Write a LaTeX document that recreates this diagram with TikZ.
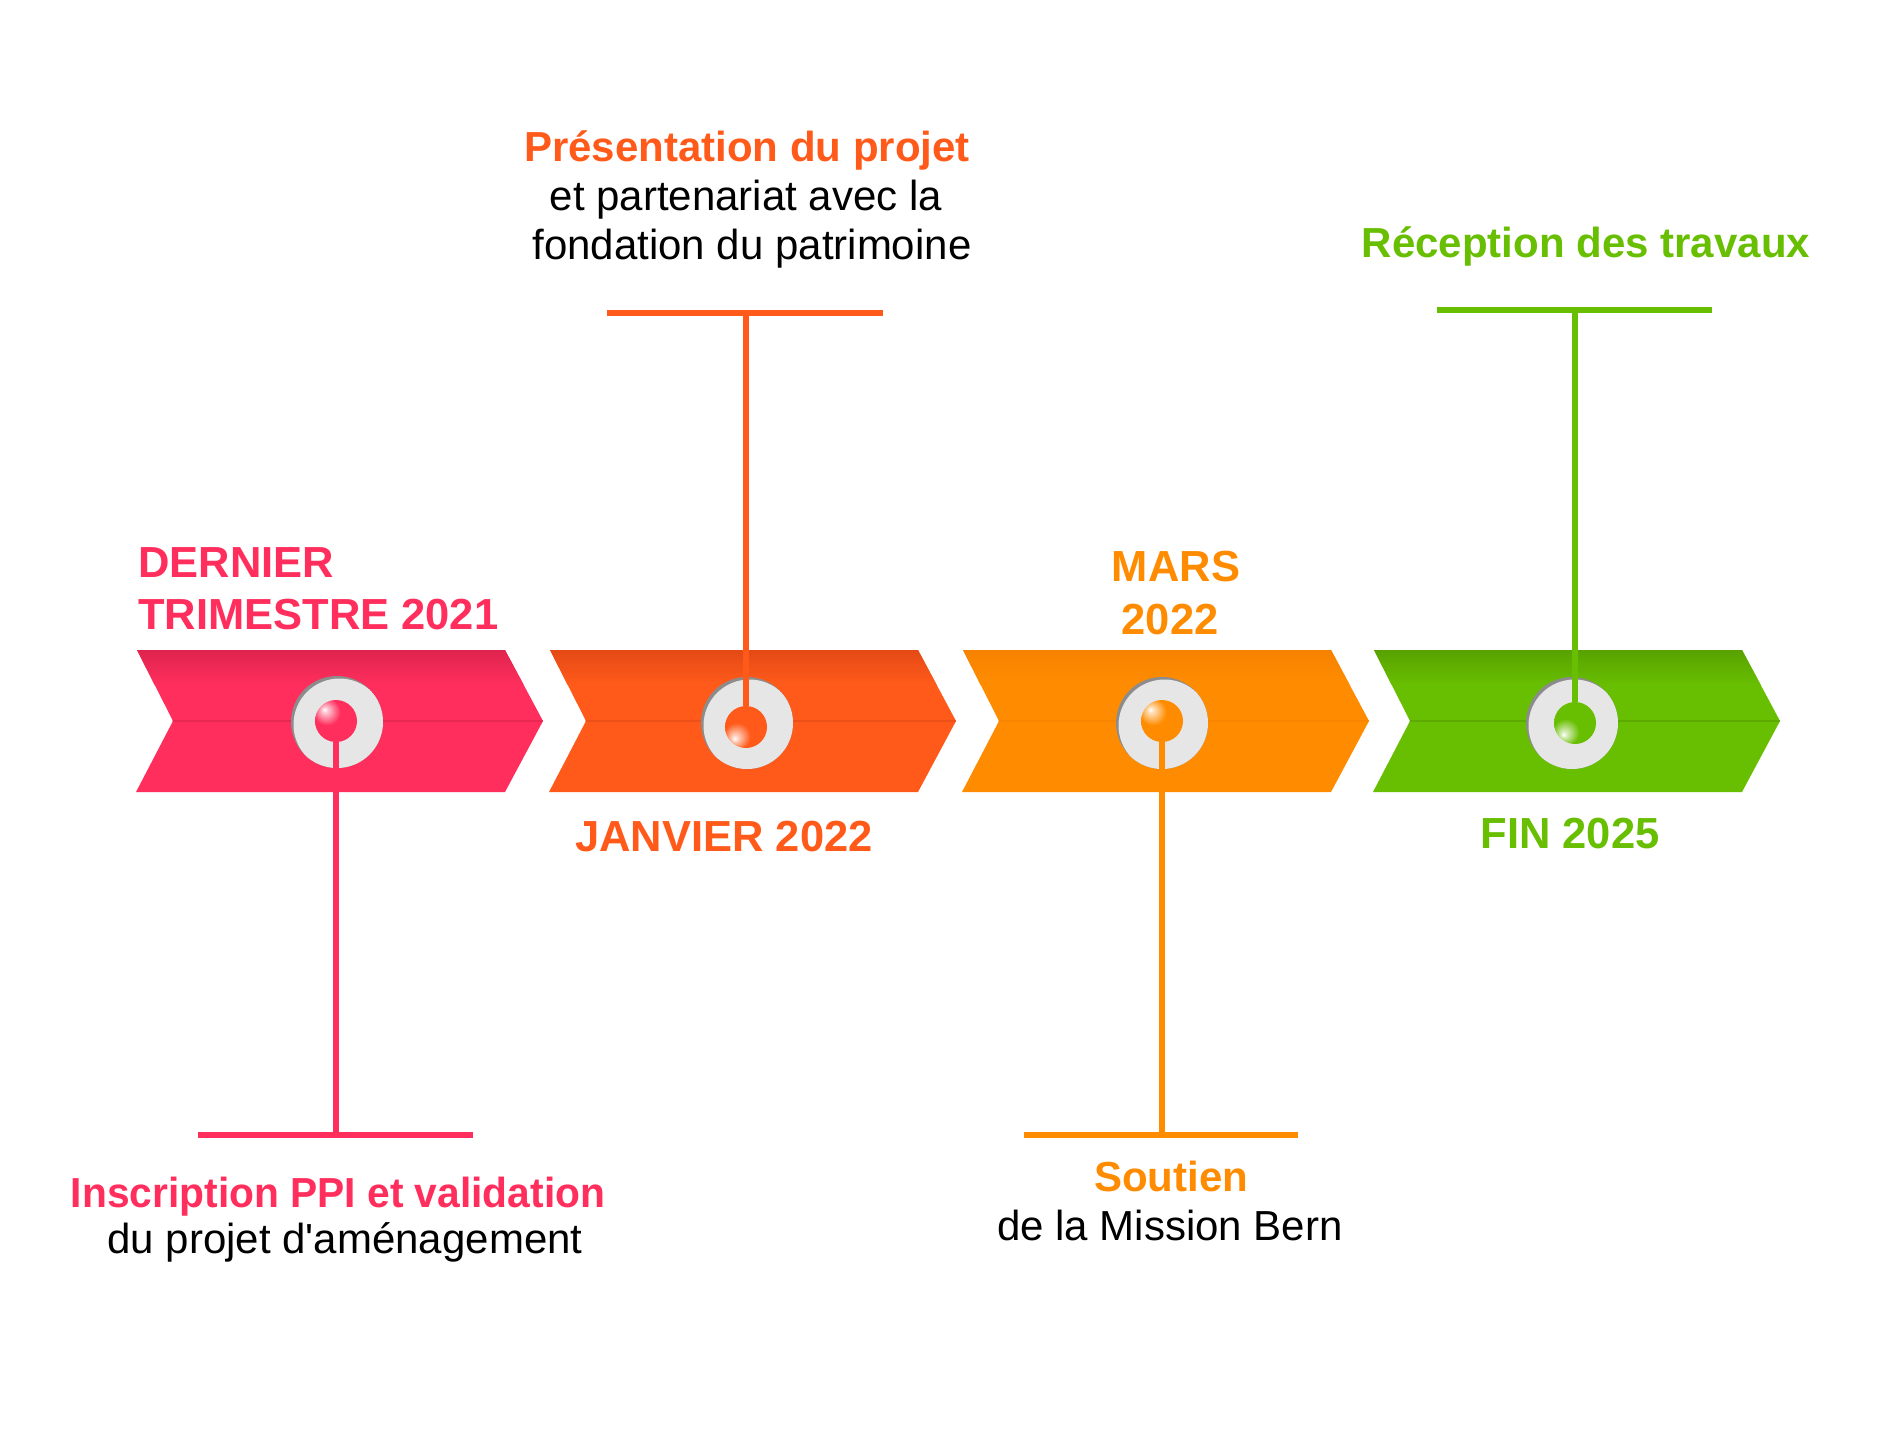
\documentclass[tikz,border=0pt]{standalone}
\usepackage{fontspec}
\setmainfont{Liberation Sans}[Ligatures=TeXOff]
\definecolor{cpink}{RGB}{255,46,92}
\definecolor{cpinkd}{RGB}{222,36,78}
\definecolor{cred}{RGB}{255,90,26}
\definecolor{credd}{RGB}{228,74,22}
\definecolor{corange}{RGB}{255,140,0}
\definecolor{coranged}{RGB}{246,130,0}
\definecolor{cgreen}{RGB}{104,190,0}
\definecolor{cgreend}{RGB}{88,162,0}
\definecolor{ringc}{RGB}{230,230,230}
\definecolor{ringsh}{RGB}{140,140,140}
\colorlet{base}{cpink}
\pgfdeclareradialshading[base]{myball}{\pgfpoint{-14bp}{14bp}}{%
  color(0bp)=(white); color(4bp)=(base!30!white); color(16bp)=(base);
  color(45bp)=(base); color(70bp)=(base!85!black)}
\tikzset{
  lbl/.style={font=\fontsize{42}{50}\selectfont\bfseries, anchor=base, inner sep=0pt},
  datelbl/.style={font=\fontsize{43.5}{50}\selectfont\bfseries, anchor=base, inner sep=0pt},
  body/.style={font=\fontsize{42}{50}\selectfont, anchor=base, inner sep=0pt, text=black},
  stem/.style={line width=6pt},
  tbar/.style={line width=6pt},
  ballnode/.style={circle, minimum size=42pt, inner sep=0pt, shading=myball},
}
\newcommand\mychev[3]{%
  \fill[#2] (#1,650) -- ++(368,0) -- ++(38,71) -- ++(-38,71) -- ++(-369,0) -- ++(37,-71) -- cycle;
  \begin{scope}
    \clip (#1,650) -- ++(368,0) -- ++(38,71) -- ++(-38,71) -- ++(-369,0) -- ++(37,-71) -- cycle;
    \shade[top color=#3, bottom color=#2] (#1-5,650) rectangle (#1+420,684);
    \draw[#3!70!#2, line width=1.5pt] (#1-5,721) -- (#1+420,721);
  \end{scope}}
\newcommand\myring[2]{%
  \fill[ringsh] (#1,#2) circle (46);
  \begin{scope}
    \clip (#1,#2) circle (46);
    \fill[ringc] (#1+2.5,#2+2.5) circle (46);
  \end{scope}}
\begin{document}
\begin{tikzpicture}[x=1pt,y=-1pt]
\useasboundingbox (0,0) rectangle (1893,1428);
\fill[white] (0,0) rectangle (1893,1428);

% chevrons
\mychev{137}{cpink}{cpinkd}
\mychev{550}{cred}{credd}
\mychev{963}{corange}{coranged}
\mychev{1374}{cgreen}{cgreend}

% rings
\myring{337}{722}
\myring{747}{723}
\myring{1162}{723}
\myring{1572}{723}

% balls
\colorlet{base}{cpink}
\node[ballnode] (b1) at (336,721) {};
\colorlet{base}{cred}
\node[ballnode, shading angle=90] (b2) at (746,727) {};
\colorlet{base}{corange}
\node[ballnode] (b3) at (1162,721) {};
\colorlet{base}{cgreen}
\node[ballnode, shading angle=90] (b4) at (1575,723) {};

% stem ends and bars
\coordinate (s1) at (336,1135);
\coordinate (s2) at (746,313);
\coordinate (s3) at (1162,1135);
\coordinate (s4) at (1575,310);
\coordinate (p1l) at (198,1135); \coordinate (p1r) at (473,1135);
\coordinate (p2l) at (607,313);  \coordinate (p2r) at (883,313);
\coordinate (p3l) at (1024,1135); \coordinate (p3r) at (1298,1135);
\coordinate (p4l) at (1437,310); \coordinate (p4r) at (1712,310);

\draw[stem, cpink] (b1.south) -- (s1);
\draw[stem, cred] (b2.north) -- (s2);
\draw[stem, corange] (b3.south) -- (s3);
\draw[stem, cgreen] (b4.north) -- (s4);
\draw[tbar, cpink] (p1l) -- (p1r);
\draw[tbar, cred] (p2l) -- (p2r);
\draw[tbar, corange] (p3l) -- (p3r);
\draw[tbar, cgreen] (p4l) -- (p4r);

% date labels
\node[datelbl, text=cpink, anchor=base west] (t1a) at (138,577) {DERNIER};
\node[datelbl, text=cpink, anchor=base west] (t1b) at (138,629) {TRIMESTRE 2021};
\node[datelbl, text=cred] (t2) at (724,851) {JANVIER 2022};
\node[datelbl, text=corange] (t3a) at (1176,581) {MARS};
\node[datelbl, text=corange] (t3b) at (1170,634) {2022};
\node[datelbl, text=cgreen] (t4) at (1570,848) {FIN 2025};

% event texts
\node[lbl, text=cred] (e2a) at (747,161) {Présentation du projet};
\node[body] (e2b) at (746,210) {et partenariat avec la};
\node[body] (e2c) at (752,259) {fondation du patrimoine};

\node[lbl, text=cgreen] (e4) at (1586,257) {Réception des travaux};

\node[lbl, text=cpink] (e1a) at (338,1207) {\scalebox{0.97}[1]{Inscription PPI et validation}};
\node[body] (e1b) at (345,1253) {du projet d'aménagement};

\node[lbl, text=corange] (e3a) at (1171,1191) {Soutien};
\node[body] (e3b) at (1170,1240) {de la Mission Bern};
\end{tikzpicture}
\end{document}
